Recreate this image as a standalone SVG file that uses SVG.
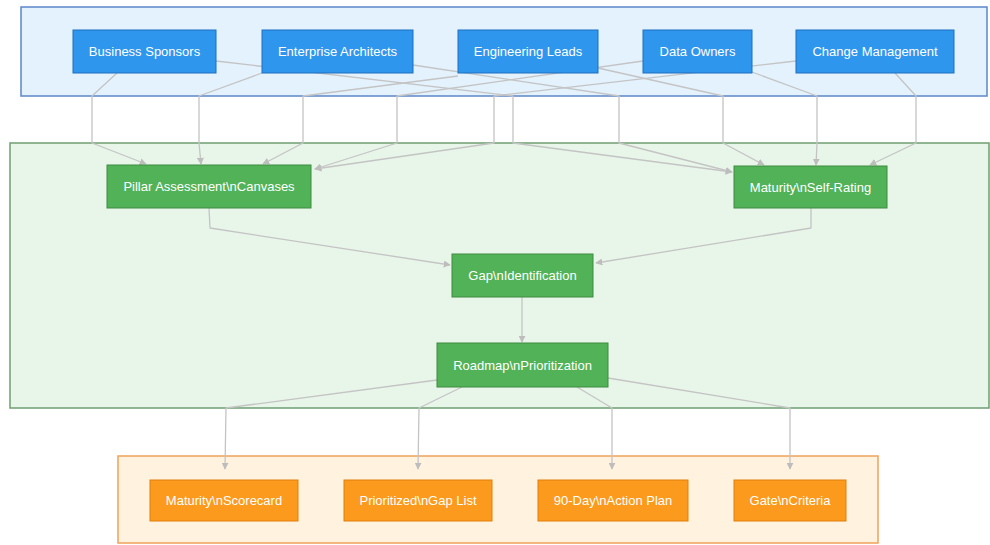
<svg xmlns="http://www.w3.org/2000/svg" width="990" height="545" viewBox="0 0 990 545">
<style>
.c-blue{fill:#e3f2fd;stroke:#5c87c9;stroke-width:1.5}
.c-green{fill:#e8f5e9;stroke:#6f9e72;stroke-width:1.5}
.c-orange{fill:#fff3e0;stroke:#eea25a;stroke-width:1.5}
.n-blue{fill:#2f96ee;stroke:#1f6fc0;stroke-width:1}
.n-green{fill:#52b257;stroke:#3d8b41;stroke-width:1}
.n-orange{fill:#fb9a1c;stroke:#e07f0a;stroke-width:1}
.lbl{font-family:"Liberation Sans",Arial,sans-serif;font-size:13px;fill:#ffffff;text-anchor:middle;dominant-baseline:central}
.edge{fill:none;stroke:#c4c4c4;stroke-width:1.3;stroke-linejoin:round;marker-end:url(#arr)}
</style>
<defs>
<marker id="arr" viewBox="0 0 10 10" refX="9" refY="5" markerWidth="7" markerHeight="7" orient="auto" markerUnits="userSpaceOnUse">
<path d="M0,0 L10,5 L0,10 z" fill="#bdbdbd"/>
</marker>
</defs>
<g id="clusters">
<rect id="cluster-stakeholders" class="c-blue" x="21" y="7" width="966" height="89"/>
<rect id="cluster-activities" class="c-green" x="10" y="143" width="979" height="265"/>
<rect id="cluster-outputs" class="c-orange" x="118" y="456" width="760" height="87"/>
</g>
<g id="connectors">
<path class="edge" d="M117,73 L92,96 L92,143 L146,164"/>
<path class="edge" d="M262,73 L199,96 L199,143 L201,164"/>
<path class="edge" d="M458,76 L303,96 L303,143 L263,164"/>
<path class="edge" d="M643,61 L397,96 L397,143 L315,169"/>
<path class="edge" d="M796,61 L494,96 L494,143 L315,169"/>
<path class="edge" d="M216,61 L513,96 L513,143 L732,172"/>
<path class="edge" d="M413,65 L619,96 L619,143 L732,172"/>
<path class="edge" d="M598,68 L723,96 L723,143 L764,165"/>
<path class="edge" d="M752,72 L817,96 L817,143 L816,165"/>
<path class="edge" d="M895,73 L916,96 L916,143 L870,165"/>
<path class="edge" d="M209,208 L210,228 L450,265"/>
<path class="edge" d="M811,208 L811,228 L596,263"/>
<path class="edge" d="M522,297 L522,342"/>
<path class="edge" d="M437,380 L226,408 L225,469"/>
<path class="edge" d="M462,387 L419,408 L418,469"/>
<path class="edge" d="M577,387 L612,408 L612,469"/>
<path class="edge" d="M608,378 L790,408 L790,469"/>
</g>
<g id="node-business-sponsors"><rect class="n-blue" x="73" y="30" width="143" height="43"/><text class="lbl" x="144.5" y="51.5">Business Sponsors</text></g>
<g id="node-enterprise-architects"><rect class="n-blue" x="262" y="30" width="151" height="43"/><text class="lbl" x="337.5" y="51.5">Enterprise Architects</text></g>
<g id="node-engineering-leads"><rect class="n-blue" x="458" y="30" width="140" height="43"/><text class="lbl" x="528" y="51.5">Engineering Leads</text></g>
<g id="node-data-owners"><rect class="n-blue" x="643" y="30" width="109" height="43"/><text class="lbl" x="697.5" y="51.5">Data Owners</text></g>
<g id="node-change-management"><rect class="n-blue" x="796" y="30" width="158" height="43"/><text class="lbl" x="875" y="51.5">Change Management</text></g>
<g id="node-pillar"><rect class="n-green" x="107" y="165" width="204" height="43"/><text class="lbl" x="209" y="186.5">Pillar Assessment\nCanvases</text></g>
<g id="node-maturity"><rect class="n-green" x="734" y="166" width="153" height="42"/><text class="lbl" x="810.5" y="187">Maturity\nSelf-Rating</text></g>
<g id="node-gap"><rect class="n-green" x="452" y="254" width="141" height="43"/><text class="lbl" x="522.5" y="275.5">Gap\nIdentification</text></g>
<g id="node-roadmap"><rect class="n-green" x="437" y="343" width="171" height="44"/><text class="lbl" x="522.5" y="365">Roadmap\nPrioritization</text></g>
<g id="node-scorecard"><rect class="n-orange" x="150" y="480" width="148" height="41"/><text class="lbl" x="224" y="500.5">Maturity\nScorecard</text></g>
<g id="node-gaplist"><rect class="n-orange" x="344" y="480" width="148" height="41"/><text class="lbl" x="418" y="500.5">Prioritized\nGap List</text></g>
<g id="node-actionplan"><rect class="n-orange" x="538" y="480" width="150" height="41"/><text class="lbl" x="613" y="500.5">90-Day\nAction Plan</text></g>
<g id="node-gate"><rect class="n-orange" x="734" y="480" width="112" height="41"/><text class="lbl" x="790" y="500.5">Gate\nCriteria</text></g>
</svg>
